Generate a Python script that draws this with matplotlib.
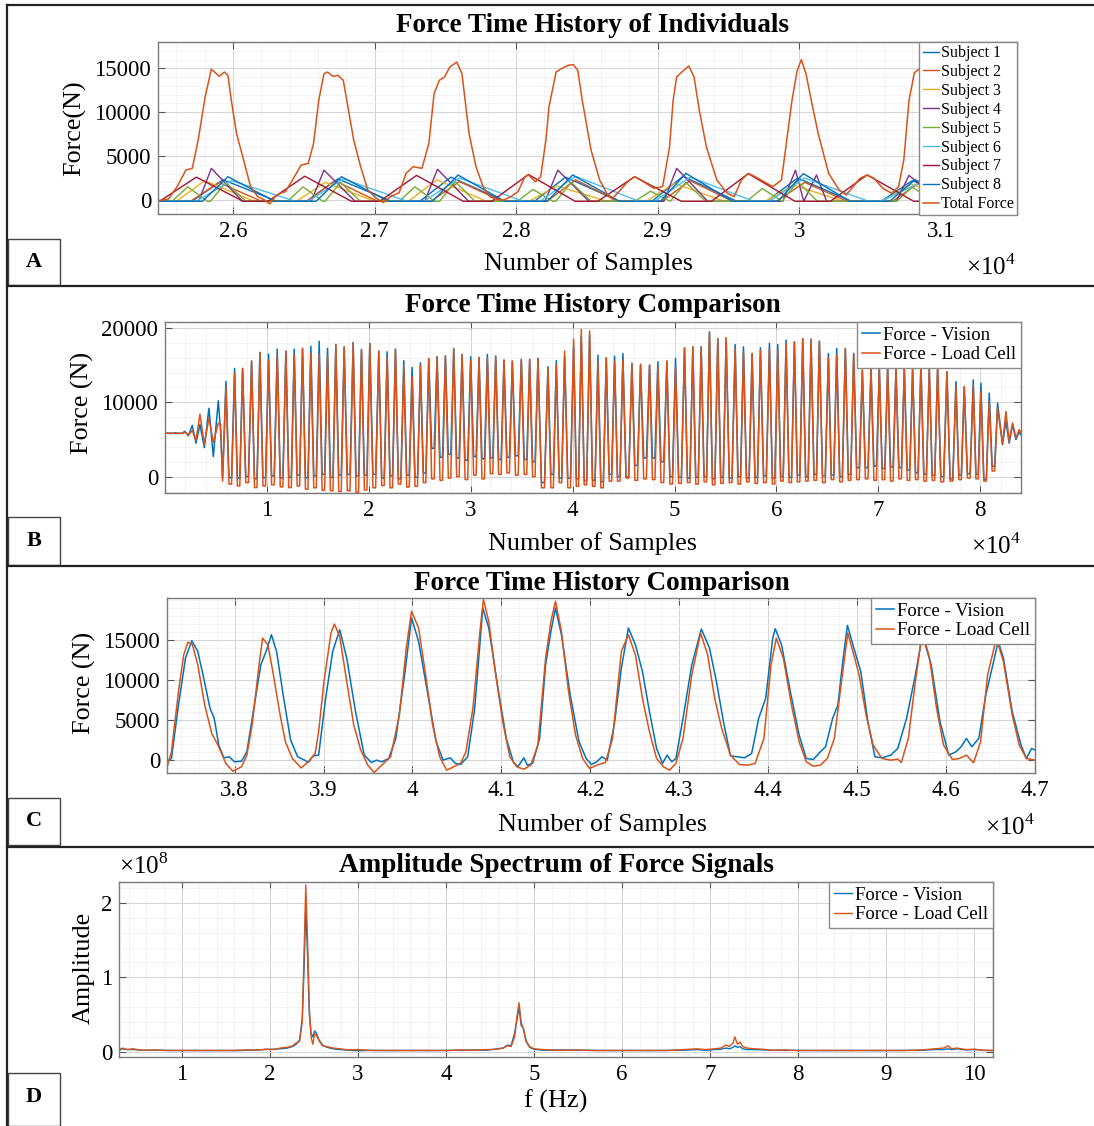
import numpy as np
import matplotlib
matplotlib.use("Agg")
import matplotlib.pyplot as plt
from matplotlib.ticker import MultipleLocator, FuncFormatter, FixedLocator
from matplotlib.lines import Line2D
from matplotlib.patches import Rectangle

plt.rcParams["font.family"] = ["Liberation Serif", "DejaVu Serif"]
plt.rcParams["mathtext.fontset"] = "custom"
plt.rcParams["mathtext.rm"] = "Liberation Serif"

BLUE, ORANGE, YELLOW, PURPLE = "#0072BD", "#D95319", "#EDB120", "#7E2F8E"
GREEN, LBLUE, DRED = "#77AC30", "#4DBEEE", "#A2142F"

# ---------------- panel A : individuals ----------------
a_total_x = [25470, 25544, 25605, 25667, 25712, 25754, 25803, 25847, 25870, 25902, 25939, 25964, 25988,
             26025, 26075, 26124, 26174, 26223, 26260, 26297, 26334, 26371, 26420, 26482, 26532, 26569,
             26606, 26643, 26668, 26705, 26742, 26779, 26816, 26853, 26902, 26952, 27013, 27063, 27112,
             27174, 27223, 27273, 27335, 27384, 27421, 27458, 27495, 27532, 27581, 27618, 27668, 27717,
             27767, 27816, 27865, 27915, 27964, 28014, 28063, 28088, 28137, 28174, 28211, 28233, 28283,
             28320, 28369, 28406, 28436, 28468, 28530, 28591, 28641, 28678, 28727, 28789, 28838, 28900,
             28974, 29036, 29085, 29110, 29135, 29172, 29221, 29258, 29295, 29345, 29419, 29493, 29542,
             29592, 29641, 29690, 29752, 29814, 29876, 29913, 29950, 29987, 30016, 30049, 30086, 30135,
             30209, 30283, 30333, 30382, 30431, 30481, 30530, 30592, 30654, 30703, 30740, 30777, 30815,
             30870, 31000, 31100, 31250, 31400, 31540]
a_total_y = [-100, 110, 1515, 3410, 3600, 6820, 11740, 14890, 14580, 14090, 14580, 14200, 11360,
             7580, 4550, 1515, 380, 0, -450, 380, 760, 950, 2270, 3980, 4170, 6440,
             11360, 14390, 14580, 14090, 14200, 13640, 10230, 6820, 3790, 1140, 190, -300, 380,
             830, 3030, 3790, 3600, 6440, 12120, 13640, 14020, 15150, 15720, 14390, 7580, 3790,
             1515, 380, 80, 0, 380, 950, 2650, 2840, 2080, 2650, 6820, 10600, 14580,
             14960, 15340, 15420, 14770, 11360, 5680, 2270, 760, 110, 950, 2080, 2650, 2080,
             1330, 1515, 6060, 11360, 14020, 14580, 15270, 14020, 10230, 6060, 2270, 760, 380,
             2270, 3030, 2650, 2080, 1515, 2270, 6820, 11360, 14770, 15980, 14390, 11360, 7580,
             3030, 1140, 570, 1515, 2460, 2840, 2460, 1330, 760, 1515, 4550, 11360, 14500,
             15200, 9000, 3000, 600, 2500, 8000]

a_base = -150
s1_px = [25930, 26740, 27540, 28350, 29180, 29990, 30800]
s1_py = [2300, 2400, 2600, 2600, 2700, 2500, 2200]
s2_px = [25900, 26720, 27600, 28420, 29230, 30040, 30860]
s2_py = [2000, 2200, 2100, 2300, 2200, 2000, 2100]
s3_px = [25800, 26650, 27440, 28290, 29120, 29960, 30790]
s3_py = [2200, 2000, 2300, 1600, 1900, 1700, 1800]
s4_px = [25847, 26643, 27445, 28295, 29135, 29975, 30123, 30777]
s4_py = [3600, 3400, 3500, 3400, 3600, 3400, 2840, 2800]
s5_px = [25680, 25950, 26495, 26760, 27285, 27570, 28120, 28390, 28950, 29200, 29740, 29990, 30800]
s5_py = [1500, 2000, 1500, 2000, 1500, 2100, 1200, 2000, 1000, 2000, 1300, 2100, 1500]
s6_px = [25990, 26780, 27600, 28420, 29230, 30040, 30830]
s6_py = [2200, 2400, 2500, 2700, 2600, 2500, 1800]
s7_px = [25741, 26507, 27297, 28088, 28838, 29641, 30481, 31290]
s7_py = [2600, 2700, 2800, 2900, 2650, 3000, 2850, 2700]
s8_px = [25964, 26767, 27590, 28400, 29200, 30030, 30820]
s8_py = [2650, 2650, 2840, 2840, 3030, 3000, 2300]
# rise / fall width (samples) of each subject's bump
s_rise = [220, 200, 200, 90, 110, 250, 260, 180]
s_fall = [380, 300, 350, 220, 140, 450, 330, 330]

# ---------------- panel B : whole record ----------------
b_start_x = [0, 600, 1000, 1310, 1700, 1960, 2290, 2680, 3040, 3430, 3860, 4310, 4740, 5230, 5460, 5650]
b_start_vis = [5850, 5800, 5900, 5800, 5850, 6100, 5500, 6900, 4500, 7000, 3900, 9200, 2700, 10200, 6000, -200]
b_start_load = [5850, 5850, 5800, 5850, 5800, 6000, 5600, 6200, 4900, 8400, 4300, 7900, 4600, 7200, 7000, -600]

b_peak_x = [5980, 6830, 7615, 8497, 9314, 10163, 11013, 11863, 12680, 13497, 14314, 15131, 15948, 16765,
            17582, 18464, 19281, 20098,
            20980, 21798, 22615, 23432, 24249, 25066, 25883, 26700, 27517, 28334, 29150, 30000, 30817,
            31634, 32451, 33268, 34085, 34967, 35784, 36601, 37582, 38399, 39216, 40098, 40850, 41667,
            42484, 43301, 44118, 44935, 45817, 46667, 47549, 48366, 49248, 50098, 50980, 51797, 52614,
            53431, 54248, 55065, 55948, 56765, 57614, 58431, 59314, 60131, 60948, 61765, 62582,
            63399, 64216, 65098, 65915, 66765, 67582, 68431, 69281, 70098, 70915, 71732, 72549, 73366,
            74183, 75000, 75817, 76732, 77615, 78432, 79314, 80066, 80883, 81700]
b_peak_vis = [12800, 14560, 14560, 15550, 16700, 16480, 17150, 16880, 17150, 17250, 17550, 18220, 17250, 17770,
              17460, 18040, 17100, 17900,
              16880, 16800, 17150, 15590, 14700, 15320, 15900, 16120, 16260, 17240, 16440, 16120, 16030,
              16440, 16210, 15680, 15550, 15770, 15770, 15900, 14790, 15590, 16200, 17600, 18900, 19000,
              16350, 16000, 16210, 16570, 15230, 15100, 15010, 15460, 15550, 15900, 17330, 17460, 17460,
              19460, 18570, 18660, 17770, 17460, 16570, 17330, 17950, 17770, 18350, 18130, 18570,
              18490, 18220, 16570, 17240, 17240, 16570, 14340, 14570, 14570, 14790, 14570, 14570, 14570,
              15010, 14650, 14650, 14120, 12780, 12120, 13000, 12560, 11230, 9890]
b_peak_load = [12100, 13900, 14560, 15550, 16700, 15680, 16350, 16880, 16350, 17250, 16570, 16440, 16350, 17770,
               17460, 18040, 17100, 17900,
               16880, 16000, 17150, 14790, 13450, 15000, 15900, 16120, 16260, 17240, 16440, 15680, 16030,
               15900, 16210, 15680, 15550, 15770, 15770, 15900, 14570, 15000, 16900, 18500, 19800, 19600,
               15460, 16000, 15460, 15680, 15230, 15100, 15010, 14790, 15550, 14790, 17330, 17460, 17460,
               19460, 18570, 18660, 17240, 16790, 16570, 17020, 17240, 17020, 17900, 18130, 18570,
               18490, 18220, 16000, 16350, 17240, 16570, 14340, 14570, 14570, 14790, 14570, 14570, 14570,
               15010, 14650, 14650, 14120, 12120, 12120, 12340, 11450, 10110, 9220]
b_trough_vis = [-130, -200, 0, -300, -150, 100, -200, -100, 200, -150, 100, 300, -100, 200, 300, 100, 200, 300,
                -200, 100, -300, 200, -100, 500, 3800, 2600, 3000, 2500, 2200, 2700, 2400, 2500, 2300, 2600,
                2800, 2300, 2000, -800, 300, -200, -200, -300, -500,
                -500, -700, 300, 0, 0, 1500, 2500, 2500, 2000, 0, -100, -200, -100, 0, -300, -100, -200, 0,
                -200, -100, 100, -200, 0, -100, 200,
                0, 300, 100, 200, 0, 300, 1200, 1200, 1400, 1100, 1300, 1200, 900, 500, 300, 200, 0, -300,
                200, 400, 300, -400, 1400]
b_trough_load = [-1000, -1250, -800, -1470, -1250, -1100, -1380, -1470, -1250, -1690, -1500, -1830, -1900,
                 -2000, -1900, -2100, -1800, -1500,
                 -1200, -1500, -1000, -1400, -1300, -800, -300, -500, -200, 0, -400, 200, -300, 400, 300,
                 500, 200, 300, 0, -1500, -1500, -800, -1500, -1300, -1100,
                 -1300, -1500, -600, -600, -200, -500, -300, -400, -800, -1000, -900, -800, -1000, -700,
                 -1100, -900, -800, -1000, -700, -900, -800, -1000, -600, -800, -700,
                 -600, -500, -800, -400, -700, -500, -400, -300, -500, -400, -600, -300, -500, -400, -600,
                 -500, -700, -600, -400, -200, -300, -600, 760]
b_end_x = [82190, 82520, 82840, 83170, 83500, 83820, 84150, 84300]
b_end_vis = [4320, 7500, 4500, 7000, 5000, 6000, 5300, 4300]
b_end_load = [4320, 8780, 4770, 7220, 5210, 6320, 5660, 5500]
# the low part of each stride lasts roughly the middle third between two peaks
b_flat = (0.35, 0.65)

# ---------------- panel C : detail ----------------
c_load_x = [37231, 37290, 37369, 37428, 37475, 37526, 37586, 37664, 37743, 37822, 37901, 37980, 38078, 38138,
            38197, 38275, 38315, 38374, 38430, 38512, 38571, 38650, 38748, 38827, 38906, 38945, 39005, 39084,
            39123, 39182, 39261, 39340, 39419, 39498, 39569, 39655, 39754, 39853, 39931, 39990, 40069, 40148,
            40227, 40306, 40385, 40464, 40542, 40601, 40680, 40759, 40798, 40858, 40936, 41015, 41094, 41173,
            41252, 41331, 41410, 41497, 41557, 41608, 41675, 41755, 41834, 41913, 41992, 42071, 42170, 42250,
            42349, 42428, 42507, 42586, 42665, 42745, 42824, 42891, 42962, 43042, 43141, 43240, 43319, 43398,
            43477, 43576, 43675, 43774, 43853, 43952, 44032, 44091, 44170, 44269, 44348, 44428, 44507, 44586,
            44665, 44744, 44824, 44895, 44962, 45022, 45101, 45180, 45279, 45378, 45457, 45497, 45576, 45655,
            45734, 45814, 45893, 45972, 46071, 46150, 46229, 46309, 46388, 46467, 46566, 46645, 46744, 46823,
            46903, 47002]
c_load_y = [-1250, 1040, 8540, 13125, 14700, 14375, 11875, 6875, 3330, 1670, -400, -1375, -830, 625,
            4375, 11875, 15200, 14375, 11040, 5625, 2290, 210, -960, -210, 830, 3540, 9790, 15830,
            16960, 15400, 9790, 4375, 1250, -625, -1540, -625, 420, 5625, 14000, 18540, 16460, 10625,
            4375, 420, -1250, -830, -400, 1040, 6460, 16040, 20000, 17290, 10625, 4790, 420, -830,
            -1125, -625, 1875, 12710, 17290, 19790, 16040, 8540, 3125, 210, -1040, -625, -290, 2710,
            13540, 15625, 13125, 7710, 3540, 210, -830, -1250, -400, 2710, 10625, 15830, 13125, 7710,
            3960, 625, -540, -625, -400, 2710, 11875, 15200, 12710, 6460, 2290, -210, -750, -625,
            210, 2710, 9790, 15830, 13125, 10625, 5625, 1875, 210, 0, 125, -290, 2710, 9790,
            16040, 12710, 6460, 1875, 80, 210, 625, -330, 2290, 10625, 15200, 12290, 5625, 1875,
            210, 0]
c_vis_x = [37231, 37290, 37369, 37448, 37519, 37586, 37645, 37724, 37771, 37822, 37880, 37940, 37999, 38078,
           38138, 38216, 38295, 38354, 38414, 38472, 38552, 38630, 38709, 38788, 38827, 38886, 38945, 39024,
           39103, 39182, 39261, 39360, 39458, 39537, 39596, 39655, 39734, 39813, 39912, 39990, 40069, 40168,
           40266, 40345, 40424, 40483, 40542, 40621, 40700, 40791, 40858, 40956, 41055, 41134, 41185, 41252,
           41292, 41351, 41430, 41497, 41557, 41608, 41675, 41774, 41873, 41953, 42012, 42071, 42131, 42190,
           42269, 42349, 42428, 42507, 42586, 42665, 42745, 42812, 42863, 42915, 42962, 43042, 43141, 43248,
           43339, 43418, 43497, 43576, 43655, 43735, 43814, 43893, 43972, 44051, 44079, 44150, 44249, 44348,
           44428, 44507, 44586, 44645, 44725, 44784, 44843, 44891, 44962, 45041, 45121, 45200, 45279, 45378,
           45457, 45556, 45655, 45734, 45833, 45932, 46031, 46111, 46170, 46229, 46289, 46368, 46447, 46526,
           46586, 46645, 46744, 46843, 46903, 46962, 47002]
c_vis_y = [-210, 210, 6875, 12710, 14875, 13540, 10625, 6460, 5210, 1875, 290, 420, -210, -125,
           1040, 6460, 11875, 13540, 15625, 13540, 7710, 2500, 420, 0, -290, 540, 625, 7710,
           13540, 16250, 12710, 6040, 625, -290, 0, -210, 210, 2710, 10625, 17710, 14790, 8540,
           2290, 0, 290, -400, -540, 420, 6460, 18960, 16460, 9375, 2710, -210, -830, 290,
           -625, -400, 2710, 11875, 16040, 18960, 15625, 8125, 2290, 210, -540, -210, 420, 0,
           4375, 11460, 16460, 14375, 11040, 6040, 1460, -400, 625, -210, 210, 5210, 11875, 16330,
           14000, 9790, 4790, 540, 420, 290, 830, 5210, 7710, 15200, 16375, 14375, 8540, 3125,
           210, 80, 1040, 1670, 5210, 6875, 12710, 16790, 14000, 11040, 4790, 420, 290, 625,
           1460, 5210, 10625, 15625, 11875, 4790, 625, 1040, 1670, 2710, 1670, 2710, 8125, 11875,
           14790, 12710, 6040, 1875, 210, 1460, 1250]

# ---------------- panel D : spectrum (amplitude in 1e8) ----------------
d_freq = [0.29, 0.33, 0.38, 0.45, 0.55, 0.7, 0.85, 1.0, 1.15, 1.3, 1.45, 1.6, 1.75, 1.85, 1.95, 2.05, 2.12,
          2.2, 2.26, 2.3, 2.34, 2.37, 2.39, 2.41, 2.43, 2.45, 2.47, 2.49, 2.51, 2.53, 2.56, 2.6, 2.65, 2.72,
          2.8, 2.9, 3.0, 3.2, 3.4, 3.6, 3.8, 4.0, 4.15, 4.3, 4.45, 4.55, 4.65, 4.7, 4.74, 4.78, 4.81, 4.83,
          4.855, 4.88, 4.91, 4.95, 5.0, 5.1, 5.3, 5.5, 5.7, 5.9, 6.1, 6.3, 6.5, 6.7, 6.85, 6.95, 7.05, 7.12,
          7.18, 7.22, 7.26, 7.28, 7.31, 7.34, 7.37, 7.42, 7.5, 7.6, 7.7, 7.85, 8.0, 8.3, 8.6, 8.9, 9.2, 9.4,
          9.55, 9.65, 9.7, 9.74, 9.8, 9.9, 10.0, 10.1, 10.21]
d_amp_load = [0.03, 0.05, 0.03, 0.04, 0.02, 0.025, 0.015, 0.02, 0.015, 0.02, 0.015, 0.02, 0.025, 0.02, 0.035,
              0.03, 0.05, 0.06, 0.08, 0.12, 0.14, 0.4, 1.3, 2.24, 1.5, 0.6, 0.2, 0.1, 0.24, 0.22, 0.15, 0.08,
              0.07, 0.05, 0.04, 0.025, 0.03, 0.015, 0.02, 0.015, 0.02, 0.015, 0.025, 0.02, 0.03, 0.03, 0.05,
              0.08, 0.07, 0.2, 0.5, 0.66, 0.4, 0.3, 0.15, 0.07, 0.04, 0.03, 0.02, 0.025, 0.015, 0.02, 0.015,
              0.02, 0.015, 0.03, 0.04, 0.03, 0.04, 0.05, 0.09, 0.07, 0.12, 0.2, 0.1, 0.13, 0.07, 0.05, 0.04,
              0.035, 0.02, 0.025, 0.015, 0.02, 0.015, 0.02, 0.015, 0.025, 0.04, 0.05, 0.08, 0.04, 0.05, 0.03,
              0.035, 0.02, 0.02]
d_amp_vis = [0.02, 0.04, 0.03, 0.03, 0.02, 0.02, 0.02, 0.015, 0.02, 0.015, 0.02, 0.015, 0.02, 0.025, 0.03,
             0.035, 0.04, 0.05, 0.07, 0.1, 0.16, 0.45, 1.1, 1.95, 1.3, 0.5, 0.25, 0.2, 0.28, 0.25, 0.16, 0.09,
             0.06, 0.04, 0.03, 0.02, 0.015, 0.02, 0.015, 0.02, 0.015, 0.02, 0.02, 0.025, 0.02, 0.035, 0.05,
             0.09, 0.08, 0.25, 0.45, 0.6, 0.35, 0.32, 0.14, 0.06, 0.035, 0.02, 0.025, 0.02, 0.02, 0.015, 0.02,
             0.015, 0.02, 0.02, 0.03, 0.02, 0.03, 0.035, 0.05, 0.04, 0.06, 0.08, 0.06, 0.07, 0.04, 0.03, 0.03,
             0.025, 0.02, 0.02, 0.02, 0.015, 0.02, 0.015, 0.02, 0.02, 0.03, 0.03, 0.04, 0.03, 0.04, 0.025,
             0.03, 0.02, 0.015]

W, H = 1094, 1126
fig = plt.figure(figsize=(W / 100, H / 100), dpi=100, facecolor="white")


def px_axes(l, t, r, b):
    return fig.add_axes([l / W, 1 - b / H, (r - l) / W, (b - t) / H])


def ftext(x, y, s, **kw):
    return fig.text(x / W, 1 - y / H, s, **kw)


def style(ax, xlim, ylim, xt, yt, xmin, ymin, sci=True):
    ax.set_xlim(*xlim)
    ax.set_ylim(*ylim)
    ax.xaxis.set_major_locator(FixedLocator(xt))
    ax.yaxis.set_major_locator(FixedLocator(yt))
    ax.xaxis.set_minor_locator(MultipleLocator(xmin))
    ax.yaxis.set_minor_locator(MultipleLocator(ymin))
    if sci:
        ax.xaxis.set_major_formatter(FuncFormatter(lambda v, p: f"{v / 1e4:g}"))
    else:
        ax.xaxis.set_major_formatter(FuncFormatter(lambda v, p: f"{v:g}"))
    ax.yaxis.set_major_formatter(FuncFormatter(lambda v, p: f"{v:g}"))
    ax.grid(which="major", color="#d4d4d4", lw=0.7)
    ax.grid(which="minor", color="#eeeeee", lw=0.5)
    ax.set_axisbelow(True)
    ax.tick_params(which="major", direction="in", top=True, right=True, length=5, width=0.8,
                   color="#555555", labelsize=16.5, pad=5)
    ax.tick_params(which="minor", length=0)
    for sp in ax.spines.values():
        sp.set_color("#7a7a7a")
        sp.set_linewidth(1.0)


def leg(ax, fs, **kw):
    lg = ax.legend(loc="upper right", fontsize=fs, handlelength=1.0, handletextpad=0.15,
                   borderaxespad=0, fancybox=False, framealpha=1, edgecolor="#8a8a8a", **kw)
    lg.get_frame().set_linewidth(1.0)
    return lg


# ---------- A ----------
axA = px_axes(158, 42, 1017, 214)
subjects = [(s1_px, s1_py, BLUE), (s2_px, s2_py, ORANGE), (s3_px, s3_py, YELLOW), (s4_px, s4_py, PURPLE),
            (s5_px, s5_py, GREEN), (s6_px, s6_py, LBLUE), (s7_px, s7_py, DRED), (s8_px, s8_py, BLUE)]
for i, (px, py, col) in enumerate(subjects):
    xs, ys = [25470], [a_base]
    for p, h in zip(px, py):
        xs += [p - s_rise[i], p, p + s_fall[i]]
        ys += [a_base, h, a_base]
    xs.append(31600)
    ys.append(a_base)
    order = np.argsort(xs, kind="stable")
    axA.plot(np.array(xs)[order], np.array(ys)[order], color=col, lw=1.0, label=f"Subject {i + 1}")
axA.plot(a_total_x, a_total_y, color=ORANGE, lw=1.1, label="Total Force")
style(axA, (25470, 31540), (-1600, 18000), list(range(26000, 31001, 1000)), [0, 5000, 10000, 15000], 200, 1000)
leg(axA, 11.5, labelspacing=0.18, borderpad=0.2)

# ---------- B ----------
axB = px_axes(165, 322, 1021, 493)
bx, bv, bl = list(b_start_x), list(b_start_vis), list(b_start_load)
for k in range(len(b_peak_x)):
    bx.append(b_peak_x[k]); bv.append(b_peak_vis[k]); bl.append(b_peak_load[k])
    if k + 1 < len(b_peak_x):
        gap = b_peak_x[k + 1] - b_peak_x[k]
        for f in b_flat:
            bx.append(b_peak_x[k] + f * gap); bv.append(b_trough_vis[k]); bl.append(b_trough_load[k])
bx += b_end_x; bv += b_end_vis; bl += b_end_load
axB.plot(bx, bv, color=BLUE, lw=1.1, label="Force - Vision")
axB.plot(bx, bl, color=ORANGE, lw=1.1, label="Force - Load Cell")
style(axB, (0, 84000), (-2200, 20800), list(range(10000, 80001, 10000)), [0, 10000, 20000], 2000, 2000)
leg(axB, 13.5, labelspacing=0.12, borderpad=0.25)

# ---------- C ----------
axC = px_axes(167, 598, 1035, 773)
axC.plot(c_vis_x, c_vis_y, color=BLUE, lw=1.1, label="Force - Vision")
axC.plot(c_load_x, c_load_y, color=ORANGE, lw=1.1, label="Force - Load Cell")
style(axC, (37240, 47000), (-1600, 20200), list(range(38000, 47001, 1000)), [0, 5000, 10000, 15000], 200, 1000)
leg(axC, 13.5, labelspacing=0.12, borderpad=0.25)

# ---------- D ----------
axD = px_axes(119, 882, 993, 1057)
axD.plot(d_freq, d_amp_vis, color=BLUE, lw=1.0, label="Force - Vision")
axD.plot(d_freq, d_amp_load, color=ORANGE, lw=1.0, label="Force - Load Cell")
style(axD, (0.29, 10.21), (-0.07, 2.28), list(range(1, 11)), [0, 1, 2], 0.2, 0.2, sci=False)
leg(axD, 13.5, labelspacing=0.12, borderpad=0.25)

# ---------- texts ----------
tkw = dict(ha="center", va="center", fontweight="bold", fontsize=19.5)
ftext(592, 26, "Force Time History of Individuals", **tkw)
ftext(593, 305, "Force Time History Comparison", **tkw)
ftext(602, 583, "Force Time History Comparison", **tkw)
ftext(556, 866, "Amplitude Spectrum of Force Signals", **tkw)

lkw = dict(ha="center", va="center", fontsize=18.8)
ftext(588, 264, "Number of Samples", **lkw)
ftext(593, 544, "Number of Samples", **lkw)
ftext(602, 825, "Number of Samples", **lkw)
ftext(556, 1101, "f (Hz)", **lkw)
ftext(75, 128, "Force(N)", rotation=90, **lkw)
ftext(82, 403, "Force (N)", rotation=90, **lkw)
ftext(84, 683, "Force (N)", rotation=90, **lkw)
ftext(84, 968, "Amplitude", rotation=90, **lkw)

mkw = dict(ha="center", va="center", fontsize=18)
ftext(991, 267, r"$\times10^{4}$", **mkw)
ftext(996, 546, r"$\times10^{4}$", **mkw)
ftext(1010, 827, r"$\times10^{4}$", **mkw)
ftext(144, 866, r"$\times10^{8}$", **mkw)

# panel frames and letter boxes
for y in [5, 286, 566, 847]:
    fig.add_artist(Line2D([7 / W, 1], [1 - y / H, 1 - y / H], color="#222222", lw=1.6))
fig.add_artist(Line2D([7 / W, 7 / W], [1 - 5 / H, 0], color="#222222", lw=1.6))
for letter, top, bot in [("A", 239, 285), ("B", 517, 565), ("C", 798, 845), ("D", 1073, 1126)]:
    fig.add_artist(Rectangle((8 / W, 1 - bot / H), 52 / W, (bot - top) / H, transform=fig.transFigure,
                             facecolor="white", edgecolor="#444444", lw=1.0))
    ftext(34, (top + min(bot, 1120)) / 2, letter, ha="center", va="center", fontsize=16, fontweight="bold")

fig.savefig("out.png", dpi=100, facecolor="white")
